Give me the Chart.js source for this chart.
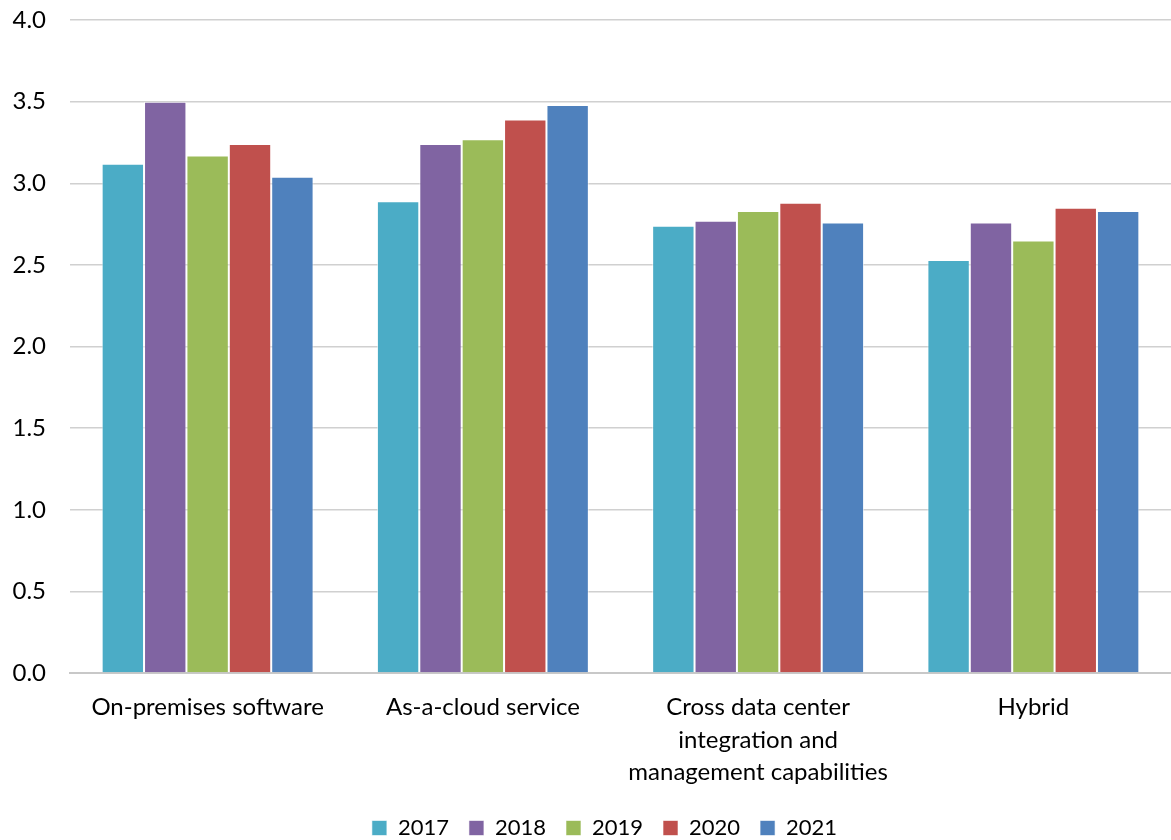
<!DOCTYPE html>
<html>
<head>
<meta charset="utf-8">
<script src="https://cdn.jsdelivr.net/npm/chart.js@4/dist/chart.umd.min.js"></script>
<style>
  html, body { margin: 0; padding: 0; background: #fff; }
  #wrap { width: 1171px; height: 840px; position: relative; }
</style>
</head>
<body>
<div id="wrap"><canvas id="myChart"></canvas></div>
<script>
let categories = [
  "On-premises software",
  "As-a-cloud service",
  ["Cross data center", "integration and", "management capabilities"],
  "Hybrid"
];
let years = ["2017", "2018", "2019", "2020", "2021"];
let v2017 = [3.12, 2.89, 2.74, 2.53];
let v2018 = [3.50, 3.24, 2.77, 2.76];
let v2019 = [3.17, 3.27, 2.83, 2.65];
let v2020 = [3.24, 3.39, 2.88, 2.85];
let v2021 = [3.04, 3.48, 2.76, 2.83];
let yTicks = [0, 0.5, 1, 1.5, 2, 2.5, 3, 3.5, 4];

let colors = ["#4BACC6", "#8064A2", "#9BBB59", "#C0504D", "#4F81BD"];
let allValues = [v2017, v2018, v2019, v2020, v2021];

Chart.defaults.font.family = "Lato, 'Open Sans', sans-serif";
Chart.defaults.color = "#000";

// legend sits a bit right of the canvas centre in the original
let shiftLegend = {
  id: "shiftLegend",
  afterLayout(chart) {
    chart.legend.left += 38;
  },
};

let ctx = document.getElementById("myChart").getContext("2d");
let barChart = new Chart(ctx, {
  type: "bar",
  data: {
    labels: categories,
    datasets: years.map((y, i) => ({
      label: y,
      data: allValues[i],
      backgroundColor: colors[i],
      borderColor: "rgba(255,255,255,0.6)",
      borderWidth: 1,
      barPercentage: 1,
      categoryPercentage: 0.77,
    })),
  },
  plugins: [shiftLegend],
  options: {
    responsive: true,
    maintainAspectRatio: false,
    animation: false,
    layout: { padding: { top: 20, right: 0, left: 0, bottom: -9 } },
    plugins: {
      tooltip: { enabled: false },
      legend: {
        position: "bottom",
        labels: {
          boxWidth: 15,
          boxHeight: 15,
          padding: 20,
          font: { size: 22 },
        },
      },
    },
    scales: {
      x: {
        afterFit: (axis) => { axis.height -= 10; },
        grid: { display: false, drawTicks: false },
        border: { color: "#c8c8c8", width: 2 },
        ticks: { font: { size: 24, lineHeight: 1.36 }, padding: 18, maxRotation: 0, autoSkip: false },
      },
      y: {
        min: 0,
        max: 4,
        afterBuildTicks: (axis) => { axis.ticks = yTicks.map(v => ({ value: v })); },
        afterFit: (axis) => { axis.width = 70; axis.paddingTop = 0; },
        grid: { color: "#d0d0d0", lineWidth: 1.5, drawTicks: false },
        border: { display: false },
        ticks: {
          font: { size: 24 },
          padding: 24,
          callback: (v) => Number(v).toFixed(1),
        },
      },
    },
  },
});
</script>
</body>
</html>
